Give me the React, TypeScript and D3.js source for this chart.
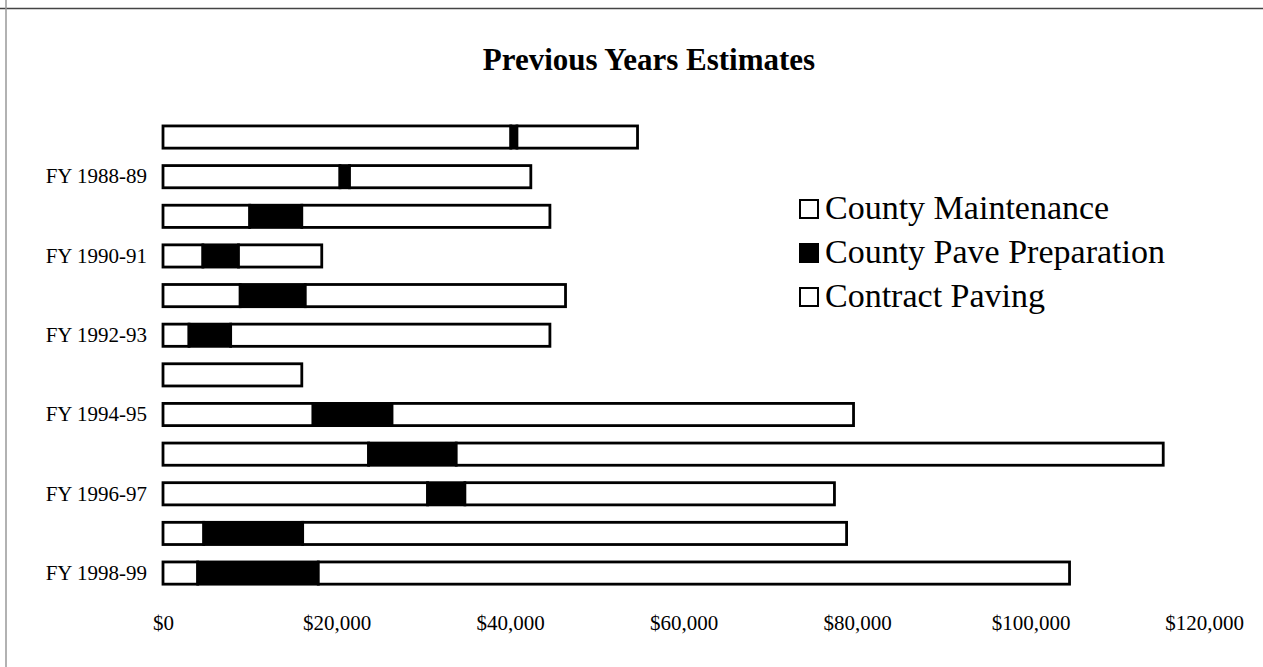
import { useRef, useEffect } from "react";
import * as d3 from "d3";

const fiscalYears = [
  "FY 1987-88", "FY 1988-89", "FY 1989-90", "FY 1990-91", "FY 1991-92", "FY 1992-93",
  "FY 1993-94", "FY 1994-95", "FY 1995-96", "FY 1996-97", "FY 1997-98", "FY 1998-99",
];
const countyMaintenance = [40100, 20400, 10000, 4600, 8900, 3000, 16000, 17300, 23700, 30500, 4700, 4000];
const pavePreparation = [700, 1100, 6000, 4100, 7500, 4800, 0, 9100, 10100, 4300, 11400, 13900];
const contractPaving = [13900, 20900, 28600, 9600, 30000, 36800, 0, 53200, 81500, 42600, 62700, 86600];
const seriesNames = ["County Maintenance", "County Pave Preparation", "Contract Paving"];
const seriesFills = ["#ffffff", "#000000", "#ffffff"];
const xTicks = [0, 20000, 40000, 60000, 80000, 100000, 120000];

const W = 1263;
const H = 667;
const FONT = "'Liberation Serif', 'Times New Roman', serif";

export default function App() {
  const svgRef = useRef<SVGSVGElement>(null);

  useEffect(() => {
    if (!svgRef.current) return;
    const svg = d3.select(svgRef.current);
    svg.selectAll("*").remove();

    svg.append("rect").attr("width", W).attr("height", H).attr("fill", "#fff");

    // scanned page frame
    svg.append("line").attr("x1", 0).attr("x2", W).attr("y1", 8.5).attr("y2", 8.5)
      .attr("stroke", "#444").attr("stroke-width", 1.5);
    svg.append("line").attr("x1", 6).attr("x2", 6).attr("y1", 0).attr("y2", H)
      .attr("stroke", "#999").attr("stroke-width", 1.5);

    const rows = fiscalYears.map((fy, i) => ({
      fy,
      maint: countyMaintenance[i],
      prep: pavePreparation[i],
      contract: contractPaving[i],
    }));
    const keys = ["maint", "prep", "contract"];
    const stacked = d3.stack<any>().keys(keys)(rows);

    const x = d3.scaleLinear().domain([0, 120000]).range([163, 1204]);
    const y = d3.scaleBand().domain(fiscalYears).range([108.5, 601.6]).padding(0.44);

    stacked.forEach((layer, li) => {
      svg.append("g")
        .selectAll("rect")
        .data(layer.filter((d) => d[1] - d[0] > 0))
        .join("rect")
        .attr("x", (d) => x(d[0]))
        .attr("y", (d) => y(d.data.fy)!)
        .attr("width", (d) => x(d[1]) - x(d[0]))
        .attr("height", y.bandwidth())
        .attr("fill", seriesFills[li])
        .attr("stroke", "#000")
        .attr("stroke-width", 2.8);
    });

    // y axis: only every other year labelled
    const yAxis = svg.append("g")
      .attr("transform", "translate(163,0)")
      .call(
        d3.axisLeft(y)
          .tickSize(0)
          .tickPadding(16)
          .tickFormat((d, i) => (i % 2 === 1 ? d : ""))
      );
    yAxis.select(".domain").remove();
    yAxis.selectAll("text")
      .attr("fill", "#000")
      .style("font-family", FONT)
      .style("font-size", "21px");

    const xAxis = svg.append("g")
      .attr("transform", "translate(0,610)")
      .call(
        d3.axisBottom(x)
          .tickValues(xTicks)
          .tickSize(0)
          .tickPadding(5)
          .tickFormat((d) => "$" + d3.format(",")(d as number))
      );
    xAxis.select(".domain").remove();
    xAxis.selectAll("text")
      .attr("fill", "#000")
      .style("font-family", FONT)
      .style("font-size", "21px");

    // title
    svg.append("text")
      .attr("x", 649)
      .attr("y", 70)
      .attr("text-anchor", "middle")
      .style("font-family", FONT)
      .style("font-size", "31px")
      .style("font-weight", "bold")
      .text("Previous Years Estimates");

    // legend
    const legend = svg.append("g").attr("transform", "translate(799,219)");
    seriesNames.forEach((name, i) => {
      const g = legend.append("g").attr("transform", `translate(0,${i * 44})`);
      g.append("rect")
        .attr("x", 1)
        .attr("y", -19)
        .attr("width", 18)
        .attr("height", 18)
        .attr("fill", seriesFills[i])
        .attr("stroke", "#000")
        .attr("stroke-width", 2);
      g.append("text")
        .attr("x", 26)
        .attr("y", 0)
        .style("font-family", FONT)
        .style("font-size", "34px")
        .text(name);
    });
  }, []);

  return (
    <div style={{ position: "absolute", left: 0, top: 0 }}>
      <svg ref={svgRef} width={W} height={H} style={{ display: "block" }} />
    </div>
  );
}
